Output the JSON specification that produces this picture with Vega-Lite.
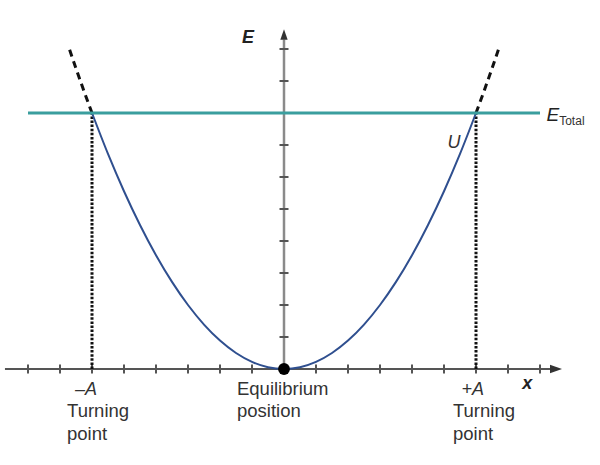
{
  "$schema": "https://vega.github.io/schema/vega-lite/v6.json",
  "width": 600,
  "height": 465,
  "autosize": {"type": "fit", "contains": "padding"},
  "padding": 0,
  "background": "white",
  "config": {"view": {"stroke": null}},
  "datasets": {
    "curve": [
      {"x": -6, "u": 8}, {"x": -5.5, "u": 6.7222}, {"x": -5, "u": 5.5556}, {"x": -4.5, "u": 4.5},
      {"x": -4, "u": 3.5556}, {"x": -3.5, "u": 2.7222}, {"x": -3, "u": 2}, {"x": -2.5, "u": 1.3889},
      {"x": -2, "u": 0.8889}, {"x": -1.5, "u": 0.5}, {"x": -1, "u": 0.2222}, {"x": -0.5, "u": 0.0556},
      {"x": 0, "u": 0}, {"x": 0.5, "u": 0.0556}, {"x": 1, "u": 0.2222}, {"x": 1.5, "u": 0.5},
      {"x": 2, "u": 0.8889}, {"x": 2.5, "u": 1.3889}, {"x": 3, "u": 2}, {"x": 3.5, "u": 2.7222},
      {"x": 4, "u": 3.5556}, {"x": 4.5, "u": 4.5}, {"x": 5, "u": 5.5556}, {"x": 5.5, "u": 6.7222},
      {"x": 6, "u": 8}
    ],
    "ext": [
      {"side": "L", "x": -6, "u": 8}, {"side": "L", "x": -6.25, "u": 8.6806}, {"side": "L", "x": -6.5, "u": 9.3889}, {"side": "L", "x": -6.7, "u": 9.9756},
      {"side": "R", "x": 6, "u": 8}, {"side": "R", "x": 6.25, "u": 8.6806}, {"side": "R", "x": 6.5, "u": 9.3889}, {"side": "R", "x": 6.7, "u": 9.9756}
    ],
    "xticks": [
      {"x": -8}, {"x": -7}, {"x": -6}, {"x": -5}, {"x": -4}, {"x": -3}, {"x": -2}, {"x": -1},
      {"x": 1}, {"x": 2}, {"x": 3}, {"x": 4}, {"x": 5}, {"x": 6}, {"x": 7}, {"x": 8}
    ],
    "yticks": [
      {"y": 1}, {"y": 2}, {"y": 3}, {"y": 4}, {"y": 5}, {"y": 6}, {"y": 7}, {"y": 8}, {"y": 9}, {"y": 10}
    ]
  },
  "layer": [
    {
      "data": {"values": [{"x1": -8.72, "x2": 8.4, "y": 0}]},
      "mark": {"type": "rule", "color": "#555555", "strokeWidth": 2},
      "encoding": {
        "x": {"field": "x1", "type": "quantitative", "scale": {"domain": [-8.875, 9.875], "nice": false, "zero": false}, "axis": null},
        "x2": {"field": "x2"},
        "y": {"field": "y", "type": "quantitative", "scale": {"domain": [-3, 11.53125], "nice": false, "zero": false}, "axis": null}
      }
    },
    {
      "data": {"values": [{"x": 0, "y1": 0, "y2": 10.3}]},
      "mark": {"type": "rule", "color": "#8a8a8a", "strokeWidth": 2.5},
      "encoding": {
        "x": {"field": "x", "type": "quantitative"},
        "y": {"field": "y1", "type": "quantitative"},
        "y2": {"field": "y2"}
      }
    },
    {
      "data": {"name": "xticks"},
      "mark": {"type": "point", "shape": "M0,-1L0,1", "filled": false, "stroke": "#555555", "strokeWidth": 2, "size": 81, "opacity": 1},
      "encoding": {
        "x": {"field": "x", "type": "quantitative"},
        "y": {"datum": 0, "type": "quantitative"}
      }
    },
    {
      "data": {"name": "yticks"},
      "mark": {"type": "point", "shape": "M-1,0L1,0", "filled": false, "stroke": "#555555", "strokeWidth": 2, "size": 81, "opacity": 1},
      "encoding": {
        "x": {"datum": 0, "type": "quantitative"},
        "y": {"field": "y", "type": "quantitative"}
      }
    },
    {
      "data": {"values": [{"x": 8.5, "y": 0}]},
      "mark": {"type": "point", "shape": "M1,0L-1,-0.7L-1,0.7Z", "filled": true, "color": "#333333", "size": 144, "opacity": 1},
      "encoding": {
        "x": {"field": "x", "type": "quantitative"},
        "y": {"field": "y", "type": "quantitative"}
      }
    },
    {
      "data": {"values": [{"x": 0, "y": 10.45}]},
      "mark": {"type": "point", "shape": "M0,-1L-0.7,1L0.7,1Z", "filled": true, "color": "#333333", "size": 110, "opacity": 1},
      "encoding": {
        "x": {"field": "x", "type": "quantitative"},
        "y": {"field": "y", "type": "quantitative"}
      }
    },
    {
      "data": {"values": [{"x": -6, "y1": 0, "y2": 8}, {"x": 6, "y1": 0, "y2": 8}]},
      "mark": {"type": "rule", "color": "#111111", "strokeWidth": 3, "strokeDash": [2.5, 1.6]},
      "encoding": {
        "x": {"field": "x", "type": "quantitative"},
        "y": {"field": "y1", "type": "quantitative"},
        "y2": {"field": "y2"}
      }
    },
    {
      "data": {"name": "ext"},
      "mark": {"type": "line", "color": "#111111", "strokeWidth": 3, "strokeDash": [7, 5]},
      "encoding": {
        "x": {"field": "x", "type": "quantitative"},
        "y": {"field": "u", "type": "quantitative"},
        "detail": {"field": "side"},
        "order": {"field": "u", "type": "quantitative"}
      }
    },
    {
      "data": {"name": "curve"},
      "mark": {"type": "line", "color": "#2f4f8f", "strokeWidth": 2, "interpolate": "monotone"},
      "encoding": {
        "x": {"field": "x", "type": "quantitative"},
        "y": {"field": "u", "type": "quantitative"}
      }
    },
    {
      "data": {"values": [{"x1": -8, "x2": 8, "y": 8}]},
      "mark": {"type": "rule", "color": "#3a9e9e", "strokeWidth": 3},
      "encoding": {
        "x": {"field": "x1", "type": "quantitative"},
        "x2": {"field": "x2"},
        "y": {"field": "y", "type": "quantitative"}
      }
    },
    {
      "data": {"values": [{"x": 0, "y": 0}]},
      "mark": {"type": "circle", "color": "#000000", "size": 140, "opacity": 1},
      "encoding": {
        "x": {"field": "x", "type": "quantitative"},
        "y": {"field": "y", "type": "quantitative"}
      }
    },
    {
      "data": {"values": [{"x": -1.125, "y": 10.19, "t": "E"}, {"x": 7.6, "y": -0.625, "t": "x"}]},
      "mark": {"type": "text", "font": "Liberation Sans", "fontSize": 18, "fontWeight": "bold", "fontStyle": "italic", "color": "#222222", "align": "center", "baseline": "alphabetic"},
      "encoding": {
        "x": {"field": "x", "type": "quantitative"},
        "y": {"field": "y", "type": "quantitative"},
        "text": {"field": "t"}
      }
    },
    {
      "data": {"values": [{"x": -6.19, "y": -0.8125, "t": "–A"}, {"x": 5.9, "y": -0.8125, "t": "+A"}, {"x": 5.31, "y": 6.9, "t": "U"}]},
      "mark": {"type": "text", "font": "Liberation Sans", "fontSize": 18, "fontStyle": "italic", "color": "#333333", "align": "center", "baseline": "alphabetic"},
      "encoding": {
        "x": {"field": "x", "type": "quantitative"},
        "y": {"field": "y", "type": "quantitative"},
        "text": {"field": "t"}
      }
    },
    {
      "data": {"values": [{"x": 8.2, "y": 7.75, "t": "E"}]},
      "mark": {"type": "text", "font": "Liberation Sans", "fontSize": 19, "fontStyle": "italic", "color": "#222222", "align": "left", "baseline": "alphabetic"},
      "encoding": {
        "x": {"field": "x", "type": "quantitative"},
        "y": {"field": "y", "type": "quantitative"},
        "text": {"field": "t"}
      }
    },
    {
      "data": {"values": [{"x": 8.6, "y": 7.625, "t": "Total"}]},
      "mark": {"type": "text", "font": "Liberation Sans", "fontSize": 12, "color": "#333333", "align": "left", "baseline": "alphabetic"},
      "encoding": {
        "x": {"field": "x", "type": "quantitative"},
        "y": {"field": "y", "type": "quantitative"},
        "text": {"field": "t"}
      }
    },
    {
      "data": {"values": [
        {"x": -6.78, "y": -1.5, "t": "Turning"}, {"x": -6.78, "y": -2.22, "t": "point"},
        {"x": -1.47, "y": -0.8125, "t": "Equilibrium"}, {"x": -1.47, "y": -1.5, "t": "position"},
        {"x": 5.28, "y": -1.5, "t": "Turning"}, {"x": 5.28, "y": -2.22, "t": "point"}
      ]},
      "mark": {"type": "text", "font": "Liberation Sans", "fontSize": 18.5, "color": "#333333", "align": "left", "baseline": "alphabetic"},
      "encoding": {
        "x": {"field": "x", "type": "quantitative"},
        "y": {"field": "y", "type": "quantitative"},
        "text": {"field": "t"}
      }
    }
  ]
}
